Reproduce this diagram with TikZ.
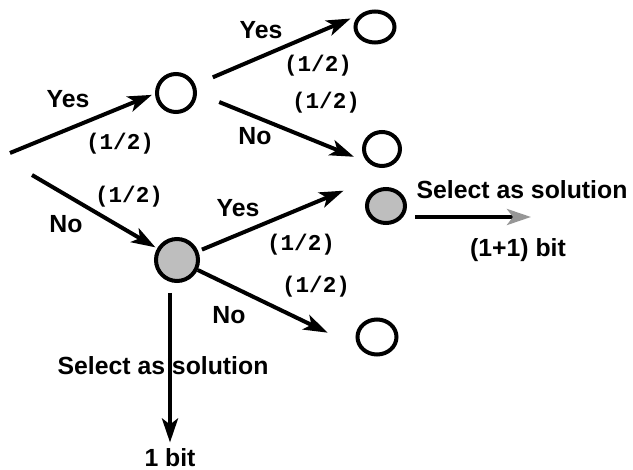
\documentclass[tikz,border=0pt]{standalone}
\usepackage{fontspec}
\setmainfont{Liberation Sans}
\newfontfamily\probfont{Liberation Mono}
\definecolor{chosengray}{RGB}{190, 190, 190}
\definecolor{tipgray}{RGB}{150, 150, 150}
\usetikzlibrary{shapes.geometric, arrows.meta, positioning}

\begin{document}
\begin{tikzpicture}[x=0.5pt, y=-0.5pt,
    state/.style={draw, ellipse, line width=2pt, inner sep=0pt, fill=white},
    chosen/.style={state, fill=chosengray},
    edge/.style={line width=2pt, -{Stealth[length=12pt, width=8pt, inset=3pt]}},
    answer/.style={font=\fontsize{12.4}{14}\selectfont\bfseries, inner sep=1pt},
    prob/.style={font=\fontsize{11.3}{13}\selectfont\probfont\bfseries, inner sep=1pt}]
  \useasboundingbox (0,0) rectangle (633,470);

  % Start of the tree
  \coordinate (rootA) at (10,153);
  \coordinate (rootB) at (32,175);

  % States
  \node[state, minimum width=19pt, minimum height=19pt] (n1) at (176,93) {};
  \node[chosen, minimum width=21pt, minimum height=21pt] (n2) at (177,260) {};
  \node[state, minimum width=19.5pt, minimum height=15.5pt] (n11) at (375,27) {};
  \node[state, minimum width=18pt, minimum height=17pt] (n12) at (382,149) {};
  \node[chosen, minimum width=19pt, minimum height=17pt] (n21) at (386,206) {};
  \node[state, minimum width=19.5pt, minimum height=17.5pt] (n22) at (377,337) {};

  % Results
  \node[answer] (onebit) at (170,458) {1 bit};
  \coordinate (selend) at (531,217);

  % Branches
  \draw[edge, shorten >=13pt] (rootA) -- ([yshift=4pt]n1.center);
  \draw[edge, shorten >=1pt] (rootB) -- (n2);
  \draw[edge, shorten <=9.5pt, shorten >=5pt] (n1) -- (n11.north west);
  \draw[edge, shorten <=12pt, shorten >=7.5pt] (n1.east) -- (n12.south west);
  \draw[edge, shorten <=2pt, shorten >=23pt] (n2) -- ([yshift=7pt]n21.north);
  \draw[edge, shorten >=27.4pt] (n2) -- (n22.south);
  \draw[edge, shorten <=5pt, shorten >=2pt] (n2.south -| onebit) -- (onebit);
  \draw[line width=2pt, shorten <=4pt,
        -{Stealth[length=12pt, width=8pt, inset=3pt, color=tipgray]}]
    (n21.east |- selend) -- (selend);

  % Answers
  \node[answer] (yesA) at (68,99) {Yes};
  \node[answer] (noA) at (66,224) {No};
  \node[answer] (yesB) at (261,30) {Yes};
  \node[answer] (noB) at (255,136) {No};
  \node[answer] (yesC) at (238,208) {Yes};
  \node[answer] (noC) at (229,315) {No};
  \node[answer] (selA) at (522,190) {Select as solution};
  \node[answer] (bitsA) at (518,250) {(1+1) bit};
  \node[answer] (selB) at (163,366) {Select as solution};

  % Probabilities
  \node[prob] (pA) at (120,144) {(1/2)};
  \node[prob] (pB) at (129,197) {(1/2)};
  \node[prob] (pC) at (318,66) {(1/2)};
  \node[prob] (pD) at (326,103) {(1/2)};
  \node[prob] (pE) at (301,245) {(1/2)};
  \node[prob] (pF) at (316,287) {(1/2)};
\end{tikzpicture}
\end{document}
